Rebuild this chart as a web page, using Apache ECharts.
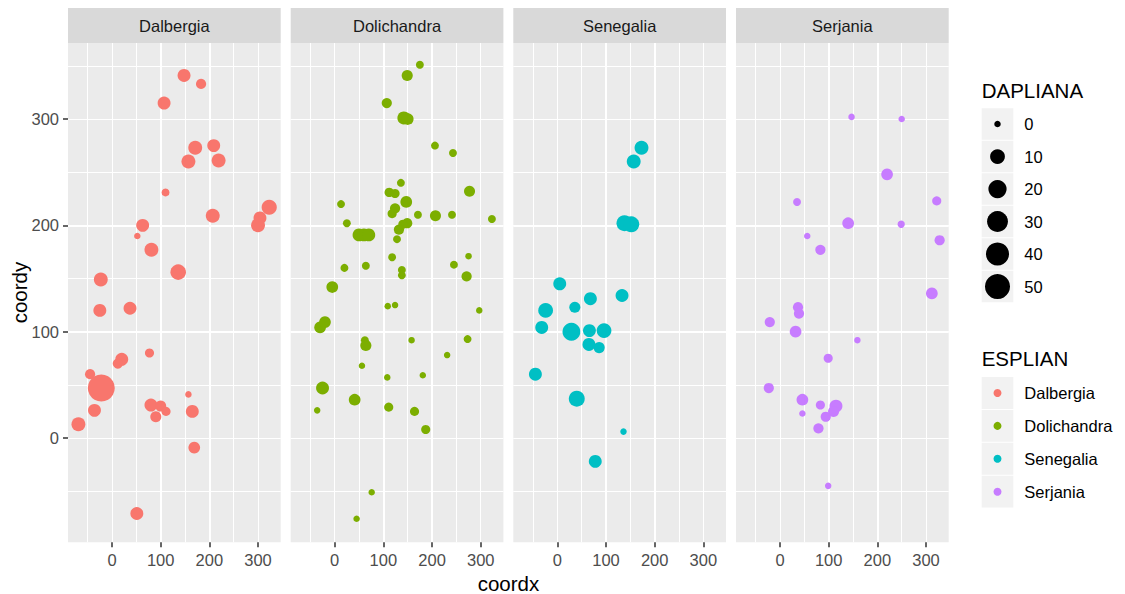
<!DOCTYPE html>
<html><head><meta charset="utf-8">
<script src="https://cdn.jsdelivr.net/npm/echarts@6/dist/echarts.min.js"></script>
<style>html,body{margin:0;padding:0;background:#fff}#c{width:1125px;height:594px}</style>
</head><body><div id="c"></div>
<script>
const species = ['Dalbergia', 'Dolichandra', 'Senegalia', 'Serjania'];
const speciesColors = ['#F8766D', '#7CAE00', '#00BFC4', '#C77CFF'];
const xTicks = [0, 100, 200, 300];
const yTicks = [0, 100, 200, 300];
const sizeBreaks = [0, 10, 20, 30, 40, 50];

const dalbergiaX = [148, 183, 107, 171, 209, 157, 219, 110, 323, 304, 300, 207, 63, 52, 81, 136, -23, -25, 37, 77, 20, 12, -45, -22, 157, -36, 80, 100, 111, 90, 165, -69, 169, 51];
const dalbergiaY = [341, 333, 315, 273, 275, 260, 261, 231, 217, 207, 200, 209, 200, 190, 177, 156, 149, 120, 122, 80, 74, 70, 60, 47, 41, 26, 31, 30, 25, 20, 25, 13, -9, -71];
const dalbergiaDAP = [6, 2, 6, 8, 6, 8, 8, 0.3, 11, 6, 8, 8, 6, 0, 8, 12, 8, 6, 6, 1, 6, 2, 2, 61, 0, 6, 6, 3, 1, 3, 6, 8, 4, 6];

const dolichandraX = [175, 149, 107, 142, 150, 206, 243, 136, 112, 124, 277, 147, 13, 124, 118, 171, 207, 241, 323, 25, 149, 140, 132, 50, 60, 70, 128, 118, 64, 20, 245, 275, 138, 138, 271, -5, 109, 124, 297, -30, -20, 62, 64, 158, 273, 231, 56, 108, 181, -25, 41, -36, 111, 164, 187, 76, 45];
const dolichandraY = [351, 341, 315, 301, 300, 275, 268, 240, 231, 230, 232, 222, 220, 216, 211, 210, 209, 210, 206, 202, 202, 201, 196, 191, 191, 191, 187, 170, 162, 160, 163, 171, 158, 153, 152, 142, 124, 125, 120, 104, 109, 92, 87, 92, 93, 78, 68, 57, 59, 47, 36, 26, 29, 25, 8, -51, -76];
const dolichandraDAP = [0.3, 3, 2, 6, 4, 0.3, 0.3, 0.3, 1.2, 1, 3, 4, 0.3, 2, 1, 0.3, 3, 0.3, 0.3, 0.3, 2, 1, 2, 6, 6, 6, 0.3, 0.3, 0.3, 0.3, 0.3, 0, 0.3, 0.3, 2, 4, 0, 0, 0, 4, 4, 0.3, 3, 0, 0.3, 0, 0, 0, 0, 6, 4, 0, 1, 1, 1, 0, 0];

const senegaliaX = [173, 157, 138, 152, 5, 68, 133, -24, 36, -32, 29, 66, 96, 65, 86, -45, 40, 136, 78];
const senegaliaY = [273, 260, 202, 201, 145, 131, 134, 120, 123, 104, 100, 101, 101, 88, 85, 60, 37, 6, -22];
const senegaliaDAP = [8, 8, 13, 13, 6, 6, 6, 10, 3, 6, 19, 6, 10, 6, 3, 6, 13, 0, 6];

const serjaniaX = [147, 250, 220, 35, 322, 140, 249, 56, 328, 83, 312, 37, 39, -21, 32, 159, 99, -23, 46, 83, 115, 110, 94, 46, 79, 99];
const serjaniaY = [302, 300, 248, 222, 223, 202, 201, 190, 186, 177, 136, 123, 117, 109, 100, 92, 75, 47, 36, 31, 30, 25, 20, 23, 9, -45];
const serjaniaDAP = [0, 0, 4, 0.3, 1, 4, 0.1, 0, 2, 2, 4, 2, 2, 2, 4, 0, 1, 2, 4, 1, 6, 3, 2, 0, 2, 0];

const seriesX = [dalbergiaX, dolichandraX, senegaliaX, serjaniaX];
const seriesY = [dalbergiaY, dolichandraY, senegaliaY, serjaniaY];
const seriesDAP = [dalbergiaDAP, dolichandraDAP, senegaliaDAP, serjaniaDAP];

const FONT = 'Liberation Sans, Arial, sans-serif';
const dapToDiameter = v => 6.5 + 2.62 * Math.sqrt(v);

const panelLeft = [68, 290.7, 513.3, 736];
const panelW = 212.7, panelTop = 43, panelH = 499.3;
const xMin = -90.4, xMax = 346.6, yMin = -98.1, yMax = 371.5;

const grids = [], xAxes = [], yAxes = [], series = [], graphics = [];
panelLeft.forEach((l, i) => {
  grids.push({left: l, top: panelTop, width: panelW, height: panelH, show: true,
    backgroundColor: '#EBEBEB', borderWidth: 0, containLabel: false});
  // major axes
  xAxes.push({type: 'value', gridIndex: i, position: 'bottom', min: xMin, max: xMax, splitNumber: 4, z: 2,
    axisLine: {show: false, onZero: false},
    axisTick: {show: true, length: 5, lineStyle: {color: '#333333', width: 1.5}, customValues: xTicks},
    axisLabel: {show: true, customValues: xTicks, color: '#4D4D4D', fontSize: 16.5, fontFamily: FONT, margin: 9},
    splitLine: {show: true, showMinLine: false, showMaxLine: false, lineStyle: {color: '#FFFFFF', width: 2}}});
  yAxes.push({type: 'value', gridIndex: i, position: 'left', min: yMin, max: yMax, splitNumber: 5, z: 2,
    axisLine: {show: false, onZero: false},
    axisTick: {show: i === 0, length: 5, lineStyle: {color: '#333333', width: 1.5}, customValues: yTicks},
    axisLabel: {show: i === 0, customValues: yTicks, color: '#4D4D4D', fontSize: 16.5, fontFamily: FONT, margin: 9},
    splitLine: {show: true, showMinLine: false, showMaxLine: false, lineStyle: {color: '#FFFFFF', width: 2}}});
  // strip
  graphics.push({type: 'rect', shape: {x: l, y: 8, width: panelW, height: 35}, style: {fill: '#D9D9D9'}, silent: true});
  graphics.push({type: 'text', x: l + panelW / 2, y: 25.5, style: {text: species[i], fill: '#1A1A1A',
    font: '16.5px ' + FONT, textAlign: 'center', textVerticalAlign: 'middle'}, silent: true});
  series.push({type: 'scatter', name: species[i], xAxisIndex: i, yAxisIndex: i, z: 3,
    data: seriesX[i].map((x, k) => [x, seriesY[i][k], seriesDAP[i][k]]),
    symbolSize: v => dapToDiameter(v[2]),
    itemStyle: {color: speciesColors[i], opacity: 1}, emphasis: {disabled: true}});
});
// minor grid axes
panelLeft.forEach((l, i) => {
  xAxes.push({type: 'value', gridIndex: i, position: 'bottom', min: xMin, max: xMax, splitNumber: 9, z: 1,
    axisLine: {show: false, onZero: false}, axisTick: {show: false}, axisLabel: {show: false},
    splitLine: {show: true, showMinLine: false, showMaxLine: false, lineStyle: {color: '#FFFFFF', width: 1}}});
  yAxes.push({type: 'value', gridIndex: i, position: 'left', min: yMin, max: yMax, splitNumber: 9, z: 1,
    axisLine: {show: false, onZero: false}, axisTick: {show: false}, axisLabel: {show: false},
    splitLine: {show: true, showMinLine: false, showMaxLine: false, lineStyle: {color: '#FFFFFF', width: 1}}});
});

// axis titles
graphics.push({type: 'text', x: 508.4, y: 583, style: {text: 'coordx', fill: '#000', font: '20.5px ' + FONT,
  textAlign: 'center', textVerticalAlign: 'middle'}, silent: true});
graphics.push({type: 'text', x: 19, y: 292.6, rotation: Math.PI / 2, style: {text: 'coordy', fill: '#000',
  font: '20.5px ' + FONT, textAlign: 'center', textVerticalAlign: 'middle'}, silent: true});

// size legend
const legX = 981.7, keyW = 31.6;
graphics.push({type: 'text', x: legX, y: 90.7, style: {text: 'DAPLIANA', fill: '#000', font: '20.5px ' + FONT,
  textAlign: 'left', textVerticalAlign: 'middle'}, silent: true});
sizeBreaks.forEach((b, k) => {
  const top = 108.3 + k * 32.5;
  graphics.push({type: 'rect', shape: {x: legX, y: top, width: keyW, height: 31.5}, style: {fill: '#F2F2F2'}, silent: true});
  graphics.push({type: 'circle', shape: {cx: legX + keyW / 2, cy: top + 15.75, r: dapToDiameter(b) / 2}, style: {fill: '#000'}, silent: true});
  graphics.push({type: 'text', x: 1024.3, y: top + 15.75, style: {text: String(b), fill: '#000', font: '16.5px ' + FONT,
    textAlign: 'left', textVerticalAlign: 'middle'}, silent: true});
});
// colour legend
graphics.push({type: 'text', x: legX, y: 358, style: {text: 'ESPLIAN', fill: '#000', font: '20.5px ' + FONT,
  textAlign: 'left', textVerticalAlign: 'middle'}, silent: true});
species.forEach((s, k) => {
  const top = 377 + k * 32.9;
  graphics.push({type: 'rect', shape: {x: legX, y: top, width: keyW, height: 31.9}, style: {fill: '#F2F2F2'}, silent: true});
  graphics.push({type: 'circle', shape: {cx: legX + keyW / 2, cy: top + 16, r: 4}, style: {fill: speciesColors[k]}, silent: true});
  graphics.push({type: 'text', x: 1024.3, y: top + 16, style: {text: s, fill: '#000', font: '16.5px ' + FONT,
    textAlign: 'left', textVerticalAlign: 'middle'}, silent: true});
});

const chart = echarts.init(document.getElementById('c'), null, {renderer: 'svg', width: 1125, height: 594});
chart.setOption({
  animation: false,
  backgroundColor: '#FFFFFF',
  grid: grids, xAxis: xAxes, yAxis: yAxes, series: series,
  graphic: {elements: graphics}
});
</script></body></html>
